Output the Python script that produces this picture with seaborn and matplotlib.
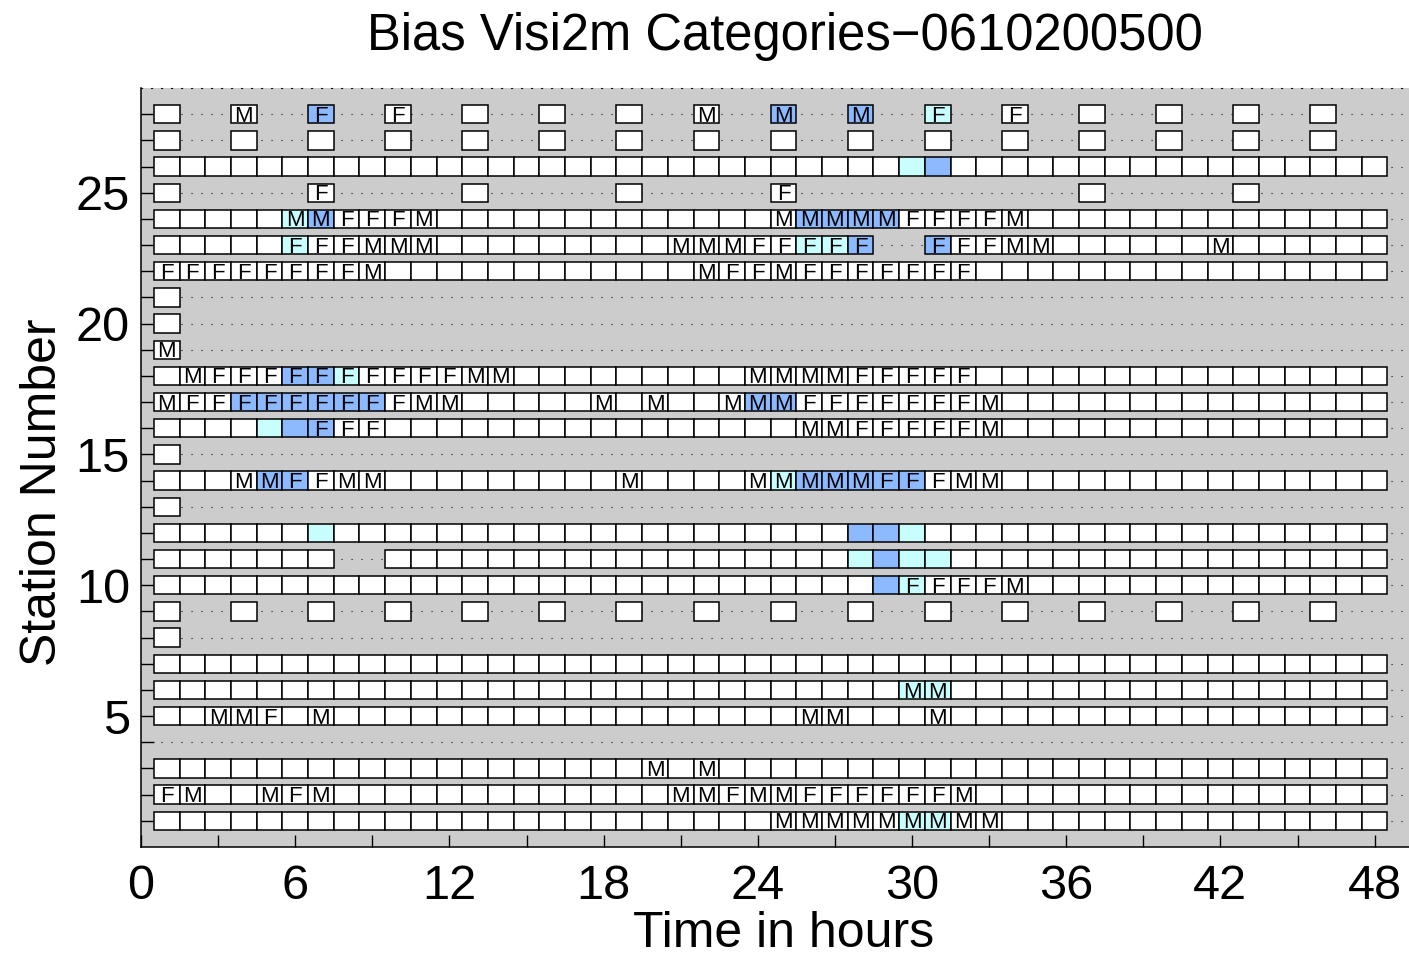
import matplotlib
matplotlib.use("Agg")
import matplotlib.pyplot as plt
import pandas as pd
import seaborn as sns

title = "Bias Visi2m Categories\u22120610200500"

hours = list(range(1, 49))
every3 = [1, 4, 7, 10, 13, 16, 19, 22, 25, 28, 31, 34, 37, 40, 43, 46]

# hours with a report, per station
report_hours = {
    28: every3, 27: every3, 26: hours,
    25: [1, 7, 13, 19, 25, 37, 43],
    24: hours,
    23: [h for h in hours if h not in (29, 30)],
    22: hours, 21: [1], 20: [1], 19: [1],
    18: hours, 17: hours, 16: hours, 15: [1], 14: hours, 13: [1], 12: hours,
    11: [h for h in hours if h not in (8, 9)],
    10: hours, 9: every3, 8: [1], 7: hours, 6: hours, 5: hours, 4: [],
    3: hours, 2: hours, 1: hours,
}

# category letters
m_hours = {
    28: [4, 22, 25, 28],
    24: [6, 7, 11, 25, 26, 27, 28, 29, 34],
    23: [9, 10, 11, 21, 22, 23, 34, 35, 42],
    22: [9, 22, 25],
    19: [1],
    18: [2, 13, 14, 24, 25, 26, 27],
    17: [1, 11, 12, 18, 20, 23, 24, 25, 33],
    16: [26, 27, 33],
    14: [4, 5, 8, 9, 19, 24, 25, 26, 27, 28, 32, 33],
    10: [34],
    6: [30, 31],
    5: [3, 4, 7, 26, 27, 31],
    3: [20, 22],
    2: [2, 5, 7, 21, 22, 24, 25, 32],
    1: [25, 26, 27, 28, 29, 30, 31, 32, 33],
}
f_hours = {
    28: [7, 10, 31, 34],
    25: [7, 25],
    24: [8, 9, 10, 30, 31, 32, 33],
    23: [6, 7, 8, 24, 25, 26, 27, 28, 31, 32, 33],
    22: [1, 2, 3, 4, 5, 6, 7, 8, 23, 24, 26, 27, 28, 29, 30, 31, 32],
    18: [3, 4, 5, 6, 7, 8, 9, 10, 11, 12, 28, 29, 30, 31, 32],
    17: [2, 3, 4, 5, 6, 7, 8, 9, 10, 26, 27, 28, 29, 30, 31, 32],
    16: [7, 8, 9, 28, 29, 30, 31, 32],
    14: [6, 7, 29, 30, 31],
    10: [30, 31, 32, 33],
    5: [5],
    2: [1, 6, 23, 26, 27, 28, 29, 30, 31],
}

# shading
light_hours = {
    28: [31], 26: [30], 24: [6], 23: [6, 26, 27], 18: [8], 16: [5],
    14: [25], 12: [7, 30], 11: [28, 30, 31], 10: [30], 6: [30, 31], 1: [30, 31],
}
dark_hours = {
    28: [7, 25, 28], 26: [31], 24: [7, 26, 27, 28, 29], 23: [28, 31],
    18: [6, 7], 17: [4, 5, 6, 7, 8, 9, 24, 25], 16: [6, 7],
    14: [5, 6, 26, 27, 28, 29, 30], 12: [28, 29], 11: [29], 10: [29],
}

shade_colors = {"none": "white", "light": "#c8fefe", "dark": "#8cb9ff"}

records = []
for st, hs in report_hours.items():
    for h in hs:
        if h in m_hours.get(st, []):
            label = "M"
        elif h in f_hours.get(st, []):
            label = "F"
        else:
            label = ""
        if h in dark_hours.get(st, []):
            shade = "dark"
        elif h in light_hours.get(st, []):
            shade = "light"
        else:
            shade = "none"
        records.append({"station": st, "hour": h, "label": label, "shade": shade})
df = pd.DataFrame(records)

sns.set_theme(style="white", rc={
    "axes.facecolor": "#cccccc",
    "text.color": "black",
    "axes.labelcolor": "black",
    "xtick.color": "black",
    "ytick.color": "black",
})
plt.rcParams["font.family"] = ["Liberation Sans", "DejaVu Sans"]

fig = plt.figure(figsize=(14.09, 9.55), dpi=100)
ax = fig.add_axes([141 / 1409, 108 / 955, 1285 / 1409, 759 / 955])
ax.set_facecolor("#cccccc")

# dotted line per station
ax.set_yticks([5, 10, 15, 20, 25])
ax.set_yticks([s for s in range(1, 29) if s % 5], minor=True)
ax.set_xticks(range(0, 49, 6))
ax.set_xticks(range(3, 48, 6), minor=True)
ax.grid(axis="y", which="both", color="#111111", linestyle=(0, (1, 8)), linewidth=0.8)
ax.set_axisbelow(True)

ax.bar(df["hour"], 0.7, bottom=df["station"] - 0.35, width=1.0,
       color=df["shade"].map(shade_colors), edgecolor="black", linewidth=1.1, zorder=2)
for r in df[df["label"] != ""].itertuples():
    ax.text(r.hour, r.station - 0.29, r.label, ha="center", va="baseline",
            fontsize=16, color="black", zorder=3)

ax.set_xlim(0, 50)
ax.set_ylim(0, 29)

for side in ["left", "bottom"]:
    ax.spines[side].set_color("black")
    ax.spines[side].set_linewidth(1.1)
ax.spines["right"].set_visible(False)
ax.spines["top"].set_color("#111111")
ax.spines["top"].set_linewidth(0.8)
ax.spines["top"].set_linestyle((0, (1, 8)))

ax.tick_params(which="both", direction="in", length=9, width=1, color="black",
               labelsize=35, labelcolor="black", left=True, bottom=True)
ax.tick_params(axis="x", pad=12)
ax.tick_params(axis="y", pad=8)

ax.set_xlabel("Time in hours", fontsize=36, color="black")
ax.xaxis.set_label_coords(0.5, -0.084)
ax.set_ylabel("Station Number", fontsize=36, color="black")
ax.yaxis.set_label_coords(-0.058, 0.468)

fig.text(785 / 1409, 1 - 50 / 955, title, ha="center", va="baseline",
         fontsize=36.5, color="black")

fig.savefig("out.png", dpi=100, facecolor="white")
